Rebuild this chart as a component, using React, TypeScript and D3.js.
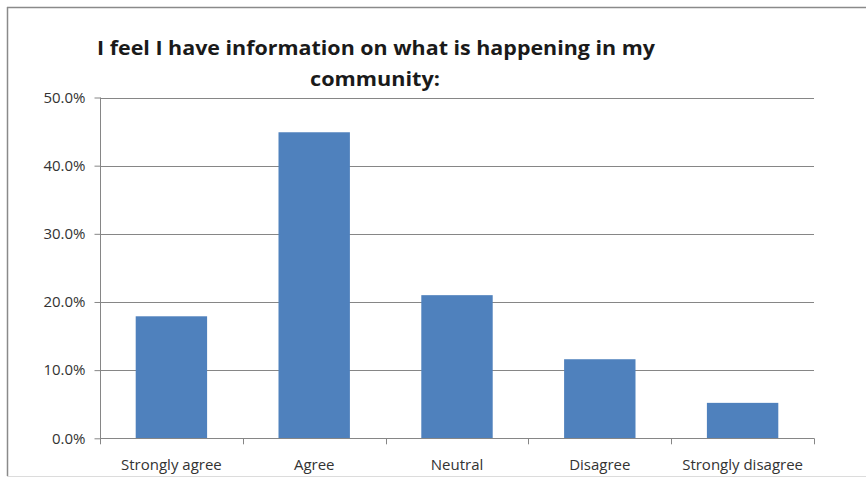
import React, { useEffect, useRef } from 'react';
import * as d3 from 'd3';

const categories = ['Strongly agree', 'Agree', 'Neutral', 'Disagree', 'Strongly disagree'];
const values = [0.179, 0.449, 0.21, 0.116, 0.052];
const yTicks = [0, 0.1, 0.2, 0.3, 0.4, 0.5];
const titleLines = ['I feel I have information on what is happening in my', 'community:'];

export default function App() {
  const ref = useRef<SVGSVGElement>(null);

  useEffect(() => {
    if (!ref.current) return;
    const svg = d3.select(ref.current);
    svg.selectAll('*').remove();

    const width = 866;
    const height = 478;
    const left = 100, right = 814, top = 97.5, bottom = 438.3;
    const font = "'Open Sans', 'Noto Sans', sans-serif";
    const axisColor = '#868686';

    svg.append('rect').attr('width', width).attr('height', height).attr('fill', '#fff');

    // outer frame
    svg.append('line').attr('x1', 7).attr('x2', width).attr('y1', 7.5).attr('y2', 7.5)
      .attr('stroke', '#8a8a8a').attr('stroke-width', 1.5);
    svg.append('line').attr('x1', 7.5).attr('x2', 7.5).attr('y1', 7).attr('y2', 476)
      .attr('stroke', '#8a8a8a').attr('stroke-width', 1.5);
    svg.append('line').attr('x1', 7).attr('x2', width).attr('y1', 476.5).attr('y2', 476.5)
      .attr('stroke', '#dcdcdc').attr('stroke-width', 1);

    const x = d3.scaleBand().domain(categories).range([left, right]).paddingInner(0.5).paddingOuter(0.25);
    const y = d3.scaleLinear().domain([0, 0.5]).range([bottom, top]);

    // gridlines
    svg.append('g').selectAll('line').data(yTicks.filter(t => t > 0)).enter().append('line')
      .attr('x1', left).attr('x2', right)
      .attr('y1', d => Math.round(y(d)) + 0.5).attr('y2', d => Math.round(y(d)) + 0.5)
      .attr('stroke', axisColor).attr('stroke-width', 1);

    // bars
    svg.append('g').selectAll('rect').data(values).enter().append('rect')
      .attr('x', (d, i) => x(categories[i])!)
      .attr('width', x.bandwidth())
      .attr('y', d => y(d))
      .attr('height', d => bottom - y(d))
      .attr('fill', '#4f81bd');

    // y axis
    const yAxis = svg.append('g').attr('transform', `translate(${left + 0.5},0)`)
      .call(d3.axisLeft(y).tickValues(yTicks).tickFormat(d => d3.format('.1%')(d as number)).tickSize(6).tickPadding(9));
    yAxis.select('.domain').attr('stroke', axisColor).attr('d', `M0,${top}V${bottom}`);
    yAxis.selectAll('.tick line').attr('stroke', axisColor);
    yAxis.selectAll('text').attr('font-family', font).attr('font-size', 15).attr('fill', '#333');

    // x axis
    const step = (right - left) / categories.length;
    const bounds = d3.range(categories.length + 1).map(i => left + i * step);
    const xg = svg.append('g');
    xg.append('line').attr('x1', left).attr('x2', right)
      .attr('y1', Math.round(bottom) + 0.5).attr('y2', Math.round(bottom) + 0.5)
      .attr('stroke', axisColor);
    xg.selectAll('.tk').data(bounds).enter().append('line')
      .attr('x1', d => Math.round(d) + 0.5).attr('x2', d => Math.round(d) + 0.5)
      .attr('y1', bottom).attr('y2', bottom + 6)
      .attr('stroke', axisColor);
    xg.selectAll('text').data(categories).enter().append('text')
      .attr('x', d => x(d)! + x.bandwidth() / 2)
      .attr('y', 470)
      .attr('text-anchor', 'middle')
      .attr('font-family', font).attr('font-size', 15).attr('fill', '#333')
      .text(d => d);

    // title
    svg.append('text').attr('x', 376).attr('y', 55).attr('text-anchor', 'middle')
      .attr('font-family', font).attr('font-weight', 'bold').attr('font-size', 20).attr('fill', '#1a1a1a')
      .attr('textLength', 558).attr('lengthAdjust', 'spacingAndGlyphs')
      .text(titleLines[0]);
    svg.append('text').attr('x', 375).attr('y', 86).attr('text-anchor', 'middle')
      .attr('font-family', font).attr('font-weight', 'bold').attr('font-size', 20).attr('fill', '#1a1a1a')
      .attr('textLength', 130).attr('lengthAdjust', 'spacingAndGlyphs')
      .text(titleLines[1]);
  }, []);

  return (
    <div style={{ position: 'absolute', left: 0, top: 0 }}>
      <svg ref={ref} width={866} height={478} style={{ display: 'block' }} />
    </div>
  );
}
